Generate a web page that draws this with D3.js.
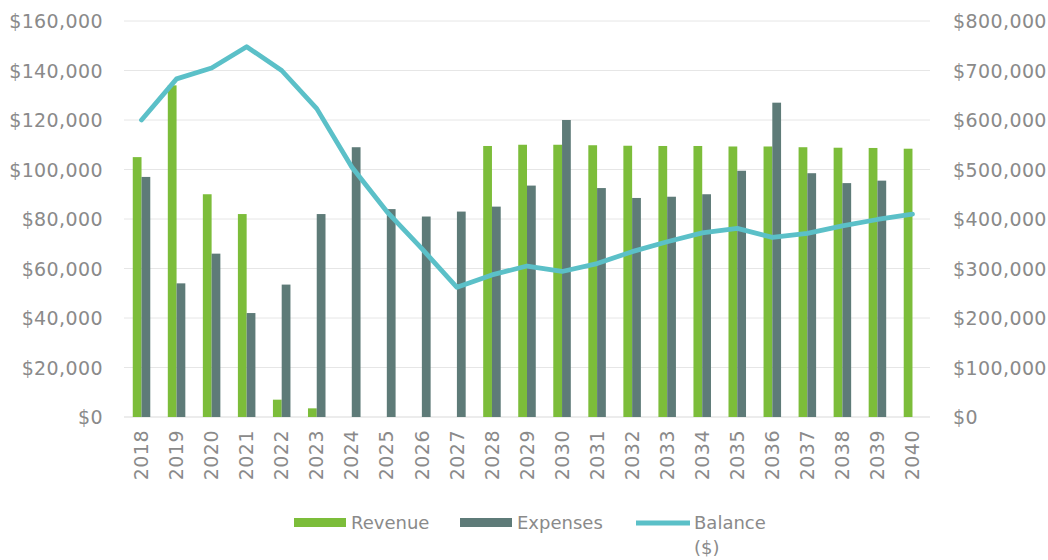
<!DOCTYPE html>
<html><head><meta charset="utf-8">
<script src="https://cdn.jsdelivr.net/npm/d3@7"></script>
<style>
body{margin:0;background:#fff;}
text{font-family:"DejaVu Sans",sans-serif;fill:#8a8a8a;}
</style></head>
<body><svg id="c" width="1048" height="560"></svg>
<script>
const years = ["2018","2019","2020","2021","2022","2023","2024","2025","2026","2027","2028","2029","2030","2031","2032","2033","2034","2035","2036","2037","2038","2039","2040"];
const revenue = [105000,134000,90000,82000,7000,3500,0,0,0,0,109500,110000,110000,109800,109600,109500,109500,109300,109300,109000,108800,108700,108400];
const expenses = [97000,54000,66000,42000,53500,82000,109000,84000,81000,83000,85000,93500,120000,92500,88500,89000,90000,99500,127000,98500,94500,95500,null];
const balance = [600000,683000,705000,748000,700000,623000,505000,415000,340000,262000,287000,305000,294000,310000,334000,354000,372000,381000,363000,371000,386000,399000,410000];
const leftTicks = [0,20000,40000,60000,80000,100000,120000,140000,160000];
const rightTicks = [0,100000,200000,300000,400000,500000,600000,700000,800000];

const svg = d3.select("#c");
const L=124,R=930,T=21,B=417;
const x = d3.scaleBand().domain(years).range([L,R]).paddingInner(0.5).paddingOuter(0.25);
const x1 = d3.scaleBand().domain(["rev","exp"]).range([0,x.bandwidth()]);
const yL = d3.scaleLinear().domain([0,160000]).range([B,T]);
const yR = d3.scaleLinear().domain([0,800000]).range([B,T]);
const fmt = d3.format("$,");
const FS = "19px";

// gridlines
svg.append("g").selectAll("line").data(leftTicks).join("line")
  .attr("x1",L).attr("x2",R).attr("y1",d=>yL(d)).attr("y2",d=>yL(d))
  .attr("stroke",d=>d===0?"#d9d9d9":"#e6e6e6").attr("stroke-width",1);

// left axis
const gl = svg.append("g").attr("transform",`translate(${L-21},0)`)
  .call(d3.axisLeft(yL).tickValues(leftTicks).tickFormat(fmt).tickSize(0).tickPadding(0));
gl.select(".domain").remove();
gl.selectAll("text").style("font-size",FS).style("letter-spacing","0.4px").attr("dy","0.35em");

// right axis
const gr = svg.append("g").attr("transform",`translate(${R+23},0)`)
  .call(d3.axisRight(yR).tickValues(rightTicks).tickFormat(fmt).tickSize(0).tickPadding(0));
gr.select(".domain").remove();
gr.selectAll("text").style("font-size",FS).style("letter-spacing","0.4px").attr("dy","0.35em");

// x axis
const gx = svg.append("g").attr("transform",`translate(0,${B})`)
  .call(d3.axisBottom(x).tickSize(0).tickPadding(0));
gx.select(".domain").remove();
gx.selectAll("text").style("font-size",FS).style("letter-spacing","0.5px").attr("text-anchor","end")
  .attr("transform","translate(0,13) rotate(-90)").attr("dx","0").attr("dy","0.35em").attr("y",0).attr("x",0);

// bars
svg.append("g").selectAll("rect").data(years.map((y,i)=>({y,v:revenue[i]}))).join("rect")
  .attr("x",d=>x(d.y)+x1("rev")).attr("width",x1.bandwidth())
  .attr("y",d=>yL(d.v)).attr("height",d=>B-yL(d.v)).attr("fill","#7cbd3a");
svg.append("g").selectAll("rect").data(years.map((y,i)=>({y,v:expenses[i]})).filter(d=>d.v!=null)).join("rect")
  .attr("x",d=>x(d.y)+x1("exp")).attr("width",x1.bandwidth())
  .attr("y",d=>yL(d.v)).attr("height",d=>B-yL(d.v)).attr("fill","#5e7b78");

// line
const line = d3.line().x((d,i)=>x(years[i])+x.bandwidth()/2).y(d=>yR(d));
svg.append("path").datum(balance).attr("d",line).attr("fill","none")
  .attr("stroke","#5bc0c8").attr("stroke-width",4.8).attr("stroke-linejoin","round").attr("stroke-linecap","round");

// legend
const lg = svg.append("g").style("font-size","18px");
lg.append("rect").attr("x",294).attr("y",518).attr("width",52).attr("height",9).attr("fill","#7cbd3a");
lg.append("text").attr("x",351).attr("y",523).attr("dy","0.35em").text("Revenue");
lg.append("rect").attr("x",460).attr("y",518).attr("width",52).attr("height",9).attr("fill","#5e7b78");
lg.append("text").attr("x",517).attr("y",523).attr("dy","0.35em").text("Expenses");
lg.append("line").attr("x1",636).attr("x2",690).attr("y1",523).attr("y2",523).attr("stroke","#5bc0c8").attr("stroke-width",4.8);
lg.append("text").attr("x",694).attr("y",523).attr("dy","0.35em").text("Balance");
lg.append("text").attr("x",694).attr("y",548).attr("dy","0.35em").text("($)");
</script></body></html>
